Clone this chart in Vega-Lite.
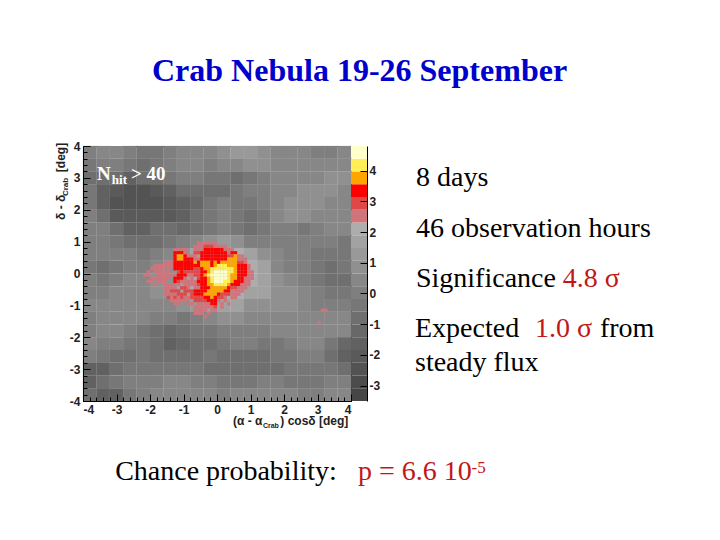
{"$schema":"https://vega.github.io/schema/vega-lite/v6.json","width":268,"height":255,"autosize":{"type":"none"},"padding":{"left":83,"top":146,"right":369,"bottom":139},"background":"white",
"title":{"text":"Crab Nebula 19-26 September","anchor":"start","dx":69,"offset":52,"font":"Liberation Serif","fontSize":32,"fontWeight":"bold","color":"#0000cc","frame":"group"},
"config":{"view":{"stroke":"#000"},"axis":{"grid":false,"title":null,"domainColor":"#000","tickColor":"#000","labelColor":"#222","labelFont":"Liberation Sans","labelFontWeight":"bold","labelFontSize":12}},
"data":{"values":[{}]},
"datasets":{
"bg":[
{"x":-3.8,"y":3.8,"v":0},{"x":-3.4,"y":3.8,"v":0.5},{"x":-3,"y":3.8,"v":0.5},{"x":-2.6,"y":3.8,"v":0},{"x":-2.2,"y":3.8,"v":-0.5},{"x":-1.8,"y":3.8,"v":-0.5},{"x":-1.4,"y":3.8,"v":0},{"x":-1,"y":3.8,"v":0.5},{"x":-0.6,"y":3.8,"v":0.5},{"x":-0.2,"y":3.8,"v":0.5},{"x":0.2,"y":3.8,"v":1},{"x":0.6,"y":3.8,"v":1.2},{"x":1,"y":3.8,"v":1.2},{"x":1.4,"y":3.8,"v":1},{"x":1.8,"y":3.8,"v":0.5},{"x":2.2,"y":3.8,"v":0.5},{"x":2.6,"y":3.8,"v":0.5},{"x":3,"y":3.8,"v":0},{"x":3.4,"y":3.8,"v":0},{"x":3.8,"y":3.8,"v":0.5},
{"x":-3.8,"y":3.4,"v":-0.5},{"x":-3.4,"y":3.4,"v":0},{"x":-3,"y":3.4,"v":0},{"x":-2.6,"y":3.4,"v":-0.5},{"x":-2.2,"y":3.4,"v":-1},{"x":-1.8,"y":3.4,"v":-0.5},{"x":-1.4,"y":3.4,"v":0},{"x":-1,"y":3.4,"v":0.5},{"x":-0.6,"y":3.4,"v":0.5},{"x":-0.2,"y":3.4,"v":0},{"x":0.2,"y":3.4,"v":0.3},{"x":0.6,"y":3.4,"v":0.5},{"x":1,"y":3.4,"v":1},{"x":1.4,"y":3.4,"v":1},{"x":1.8,"y":3.4,"v":0.5},{"x":2.2,"y":3.4,"v":0.3},{"x":2.6,"y":3.4,"v":0.3},{"x":3,"y":3.4,"v":0.3},{"x":3.4,"y":3.4,"v":0.5},{"x":3.8,"y":3.4,"v":0.5},
{"x":-3.8,"y":3,"v":-1},{"x":-3.4,"y":3,"v":-1},{"x":-3,"y":3,"v":-1},{"x":-2.6,"y":3,"v":-1.5},{"x":-2.2,"y":3,"v":-1},{"x":-1.8,"y":3,"v":-1},{"x":-1.4,"y":3,"v":-0.5},{"x":-1,"y":3,"v":0},{"x":-0.6,"y":3,"v":0},{"x":-0.2,"y":3,"v":-0.5},{"x":0.2,"y":3,"v":-0.5},{"x":0.6,"y":3,"v":-1},{"x":1,"y":3,"v":-0.5},{"x":1.4,"y":3,"v":0},{"x":1.8,"y":3,"v":0.5},{"x":2.2,"y":3,"v":0.5},{"x":2.6,"y":3,"v":0.5},{"x":3,"y":3,"v":0.5},{"x":3.4,"y":3,"v":1},{"x":3.8,"y":3,"v":0.8},
{"x":-3.8,"y":2.6,"v":-0.5},{"x":-3.4,"y":2.6,"v":-1.5},{"x":-3,"y":2.6,"v":-2},{"x":-2.6,"y":2.6,"v":-2.5},{"x":-2.2,"y":2.6,"v":-2.5},{"x":-1.8,"y":2.6,"v":-2},{"x":-1.4,"y":2.6,"v":-1.5},{"x":-1,"y":2.6,"v":-1},{"x":-0.6,"y":2.6,"v":-1},{"x":-0.2,"y":2.6,"v":-1},{"x":0.2,"y":2.6,"v":-1},{"x":0.6,"y":2.6,"v":-0.5},{"x":1,"y":2.6,"v":0},{"x":1.4,"y":2.6,"v":0},{"x":1.8,"y":2.6,"v":0.5},{"x":2.2,"y":2.6,"v":0.5},{"x":2.6,"y":2.6,"v":0.8},{"x":3,"y":2.6,"v":1},{"x":3.4,"y":2.6,"v":0.8},{"x":3.8,"y":2.6,"v":0.5},
{"x":-3.8,"y":2.2,"v":-0.5},{"x":-3.4,"y":2.2,"v":-1.5},{"x":-3,"y":2.2,"v":-2.5},{"x":-2.6,"y":2.2,"v":-2.5},{"x":-2.2,"y":2.2,"v":-2.5},{"x":-1.8,"y":2.2,"v":-2.5},{"x":-1.4,"y":2.2,"v":-2},{"x":-1,"y":2.2,"v":-1.5},{"x":-0.6,"y":2.2,"v":-1.2},{"x":-0.2,"y":2.2,"v":-0.5},{"x":0.2,"y":2.2,"v":0},{"x":0.6,"y":2.2,"v":-0.3},{"x":1,"y":2.2,"v":-0.5},{"x":1.4,"y":2.2,"v":0},{"x":1.8,"y":2.2,"v":0.5},{"x":2.2,"y":2.2,"v":0.8},{"x":2.6,"y":2.2,"v":1},{"x":3,"y":2.2,"v":0.8},{"x":3.4,"y":2.2,"v":0.5},{"x":3.8,"y":2.2,"v":0.3},
{"x":-3.8,"y":1.8,"v":0},{"x":-3.4,"y":1.8,"v":-1},{"x":-3,"y":1.8,"v":-2},{"x":-2.6,"y":1.8,"v":-2},{"x":-2.2,"y":1.8,"v":-2},{"x":-1.8,"y":1.8,"v":-2},{"x":-1.4,"y":1.8,"v":-2},{"x":-1,"y":1.8,"v":-1.5},{"x":-0.6,"y":1.8,"v":-1},{"x":-0.2,"y":1.8,"v":-0.5},{"x":0.2,"y":1.8,"v":0},{"x":0.6,"y":1.8,"v":-0.5},{"x":1,"y":1.8,"v":-1},{"x":1.4,"y":1.8,"v":-0.5},{"x":1.8,"y":1.8,"v":0.5},{"x":2.2,"y":1.8,"v":0.8},{"x":2.6,"y":1.8,"v":1},{"x":3,"y":1.8,"v":0.5},{"x":3.4,"y":1.8,"v":0.5},{"x":3.8,"y":1.8,"v":0.5},
{"x":-3.8,"y":1.4,"v":0},{"x":-3.4,"y":1.4,"v":0},{"x":-3,"y":1.4,"v":-1},{"x":-2.6,"y":1.4,"v":-1.5},{"x":-2.2,"y":1.4,"v":-1.5},{"x":-1.8,"y":1.4,"v":-1},{"x":-1.4,"y":1.4,"v":-1},{"x":-1,"y":1.4,"v":-1.2},{"x":-0.6,"y":1.4,"v":-1},{"x":-0.2,"y":1.4,"v":-0.3},{"x":0.2,"y":1.4,"v":0},{"x":0.6,"y":1.4,"v":-0.3},{"x":1,"y":1.4,"v":-1},{"x":1.4,"y":1.4,"v":-0.5},{"x":1.8,"y":1.4,"v":0},{"x":2.2,"y":1.4,"v":0},{"x":2.6,"y":1.4,"v":-0.5},{"x":3,"y":1.4,"v":0},{"x":3.4,"y":1.4,"v":0.5},{"x":3.8,"y":1.4,"v":0.5},
{"x":-3.8,"y":1,"v":0},{"x":-3.4,"y":1,"v":0},{"x":-3,"y":1,"v":-0.5},{"x":-2.6,"y":1,"v":-1},{"x":-2.2,"y":1,"v":-1},{"x":-1.8,"y":1,"v":-1},{"x":-1.4,"y":1,"v":-0.3},{"x":-1,"y":1,"v":0},{"x":-0.6,"y":1,"v":0.5},{"x":-0.2,"y":1,"v":1},{"x":0.2,"y":1,"v":1.2},{"x":0.6,"y":1,"v":0.8},{"x":1,"y":1,"v":0},{"x":1.4,"y":1,"v":0},{"x":1.8,"y":1,"v":0},{"x":2.2,"y":1,"v":0},{"x":2.6,"y":1,"v":0},{"x":3,"y":1,"v":0},{"x":3.4,"y":1,"v":0},{"x":3.8,"y":1,"v":-0.2},
{"x":-3.8,"y":0.6,"v":0},{"x":-3.4,"y":0.6,"v":0},{"x":-3,"y":0.6,"v":0},{"x":-2.6,"y":0.6,"v":0},{"x":-2.2,"y":0.6,"v":-0.5},{"x":-1.8,"y":0.6,"v":0},{"x":-1.4,"y":0.6,"v":0.5},{"x":-1,"y":0.6,"v":1},{"x":-0.6,"y":0.6,"v":1.5},{"x":-0.2,"y":0.6,"v":2},{"x":0.2,"y":0.6,"v":2},{"x":0.6,"y":0.6,"v":2},{"x":1,"y":0.6,"v":1.5},{"x":1.4,"y":0.6,"v":1},{"x":1.8,"y":0.6,"v":0.5},{"x":2.2,"y":0.6,"v":0},{"x":2.6,"y":0.6,"v":0},{"x":3,"y":0.6,"v":-0.5},{"x":3.4,"y":0.6,"v":-0.5},{"x":3.8,"y":0.6,"v":-0.5},
{"x":-3.8,"y":0.2,"v":-0.5},{"x":-3.4,"y":0.2,"v":-1},{"x":-3,"y":0.2,"v":-0.5},{"x":-2.6,"y":0.2,"v":0},{"x":-2.2,"y":0.2,"v":0},{"x":-1.8,"y":0.2,"v":0.5},{"x":-1.4,"y":0.2,"v":1},{"x":-1,"y":0.2,"v":1.5},{"x":-0.6,"y":0.2,"v":2},{"x":-0.2,"y":0.2,"v":2.2},{"x":0.2,"y":0.2,"v":2.2},{"x":0.6,"y":0.2,"v":2},{"x":1,"y":0.2,"v":2},{"x":1.4,"y":0.2,"v":1.5},{"x":1.8,"y":0.2,"v":0.5},{"x":2.2,"y":0.2,"v":0},{"x":2.6,"y":0.2,"v":0},{"x":3,"y":0.2,"v":-0.5},{"x":3.4,"y":0.2,"v":-1},{"x":3.8,"y":0.2,"v":-0.5},
{"x":-3.8,"y":-0.2,"v":0},{"x":-3.4,"y":-0.2,"v":-0.5},{"x":-3,"y":-0.2,"v":0},{"x":-2.6,"y":-0.2,"v":0.5},{"x":-2.2,"y":-0.2,"v":0.5},{"x":-1.8,"y":-0.2,"v":1},{"x":-1.4,"y":-0.2,"v":1},{"x":-1,"y":-0.2,"v":1.5},{"x":-0.6,"y":-0.2,"v":2},{"x":-0.2,"y":-0.2,"v":2.2},{"x":0.2,"y":-0.2,"v":2.2},{"x":0.6,"y":-0.2,"v":2},{"x":1,"y":-0.2,"v":2},{"x":1.4,"y":-0.2,"v":1.5},{"x":1.8,"y":-0.2,"v":1},{"x":2.2,"y":-0.2,"v":0.5},{"x":2.6,"y":-0.2,"v":0},{"x":3,"y":-0.2,"v":-0.3},{"x":3.4,"y":-0.2,"v":-1},{"x":3.8,"y":-0.2,"v":-1},
{"x":-3.8,"y":-0.6,"v":0},{"x":-3.4,"y":-0.6,"v":0},{"x":-3,"y":-0.6,"v":0.3},{"x":-2.6,"y":-0.6,"v":0.3},{"x":-2.2,"y":-0.6,"v":0.5},{"x":-1.8,"y":-0.6,"v":0.8},{"x":-1.4,"y":-0.6,"v":1},{"x":-1,"y":-0.6,"v":1.5},{"x":-0.6,"y":-0.6,"v":2},{"x":-0.2,"y":-0.6,"v":2.2},{"x":0.2,"y":-0.6,"v":2.2},{"x":0.6,"y":-0.6,"v":2},{"x":1,"y":-0.6,"v":1.8},{"x":1.4,"y":-0.6,"v":1.5},{"x":1.8,"y":-0.6,"v":1},{"x":2.2,"y":-0.6,"v":1},{"x":2.6,"y":-0.6,"v":0.5},{"x":3,"y":-0.6,"v":0},{"x":3.4,"y":-0.6,"v":-0.5},{"x":3.8,"y":-0.6,"v":-0.3},
{"x":-3.8,"y":-1,"v":0.5},{"x":-3.4,"y":-1,"v":0.5},{"x":-3,"y":-1,"v":0.5},{"x":-2.6,"y":-1,"v":0.5},{"x":-2.2,"y":-1,"v":0.5},{"x":-1.8,"y":-1,"v":0.5},{"x":-1.4,"y":-1,"v":0.3},{"x":-1,"y":-1,"v":1},{"x":-0.6,"y":-1,"v":1.2},{"x":-0.2,"y":-1,"v":1.5},{"x":0.2,"y":-1,"v":1.5},{"x":0.6,"y":-1,"v":1.5},{"x":1,"y":-1,"v":1},{"x":1.4,"y":-1,"v":1},{"x":1.8,"y":-1,"v":0.8},{"x":2.2,"y":-1,"v":0.8},{"x":2.6,"y":-1,"v":0.5},{"x":3,"y":-1,"v":0},{"x":3.4,"y":-1,"v":0},{"x":3.8,"y":-1,"v":0},
{"x":-3.8,"y":-1.4,"v":0},{"x":-3.4,"y":-1.4,"v":0.5},{"x":-3,"y":-1.4,"v":0.5},{"x":-2.6,"y":-1.4,"v":0.5},{"x":-2.2,"y":-1.4,"v":0.3},{"x":-1.8,"y":-1.4,"v":0},{"x":-1.4,"y":-1.4,"v":0},{"x":-1,"y":-1.4,"v":-0.3},{"x":-0.6,"y":-1.4,"v":0},{"x":-0.2,"y":-1.4,"v":0.5},{"x":0.2,"y":-1.4,"v":1},{"x":0.6,"y":-1.4,"v":0.8},{"x":1,"y":-1.4,"v":0.5},{"x":1.4,"y":-1.4,"v":0.5},{"x":1.8,"y":-1.4,"v":0.5},{"x":2.2,"y":-1.4,"v":0.5},{"x":2.6,"y":-1.4,"v":0.3},{"x":3,"y":-1.4,"v":0.3},{"x":3.4,"y":-1.4,"v":0.5},{"x":3.8,"y":-1.4,"v":0.5},
{"x":-3.8,"y":-1.8,"v":0},{"x":-3.4,"y":-1.8,"v":0.3},{"x":-3,"y":-1.8,"v":0.3},{"x":-2.6,"y":-1.8,"v":0},{"x":-2.2,"y":-1.8,"v":-0.3},{"x":-1.8,"y":-1.8,"v":-0.8},{"x":-1.4,"y":-1.8,"v":-1.2},{"x":-1,"y":-1.8,"v":-1},{"x":-0.6,"y":-1.8,"v":-0.5},{"x":-0.2,"y":-1.8,"v":-0.2},{"x":0.2,"y":-1.8,"v":0},{"x":0.6,"y":-1.8,"v":0},{"x":1,"y":-1.8,"v":0},{"x":1.4,"y":-1.8,"v":0},{"x":1.8,"y":-1.8,"v":0.3},{"x":2.2,"y":-1.8,"v":0.5},{"x":2.6,"y":-1.8,"v":0.5},{"x":3,"y":-1.8,"v":0.3},{"x":3.4,"y":-1.8,"v":0.5},{"x":3.8,"y":-1.8,"v":0.5},
{"x":-3.8,"y":-2.2,"v":0.3},{"x":-3.4,"y":-2.2,"v":0},{"x":-3,"y":-2.2,"v":0},{"x":-2.6,"y":-2.2,"v":-0.3},{"x":-2.2,"y":-2.2,"v":-0.5},{"x":-1.8,"y":-2.2,"v":-1},{"x":-1.4,"y":-2.2,"v":-1.5},{"x":-1,"y":-2.2,"v":-1.2},{"x":-0.6,"y":-2.2,"v":-1},{"x":-0.2,"y":-2.2,"v":-1},{"x":0.2,"y":-2.2,"v":-0.5},{"x":0.6,"y":-2.2,"v":0},{"x":1,"y":-2.2,"v":0},{"x":1.4,"y":-2.2,"v":-0.3},{"x":1.8,"y":-2.2,"v":-0.3},{"x":2.2,"y":-2.2,"v":0},{"x":2.6,"y":-2.2,"v":0.3},{"x":3,"y":-2.2,"v":0.3},{"x":3.4,"y":-2.2,"v":-0.5},{"x":3.8,"y":-2.2,"v":-1.2},
{"x":-3.8,"y":-2.6,"v":0},{"x":-3.4,"y":-2.6,"v":-0.5},{"x":-3,"y":-2.6,"v":-0.8},{"x":-2.6,"y":-2.6,"v":-0.8},{"x":-2.2,"y":-2.6,"v":-0.5},{"x":-1.8,"y":-2.6,"v":-0.8},{"x":-1.4,"y":-2.6,"v":-0.8},{"x":-1,"y":-2.6,"v":-0.8},{"x":-0.6,"y":-2.6,"v":-0.8},{"x":-0.2,"y":-2.6,"v":-0.5},{"x":0.2,"y":-2.6,"v":-0.8},{"x":0.6,"y":-2.6,"v":-1},{"x":1,"y":-2.6,"v":-0.8},{"x":1.4,"y":-2.6,"v":-0.8},{"x":1.8,"y":-2.6,"v":-0.5},{"x":2.2,"y":-2.6,"v":-0.5},{"x":2.6,"y":-2.6,"v":0},{"x":3,"y":-2.6,"v":0},{"x":3.4,"y":-2.6,"v":-1},{"x":3.8,"y":-2.6,"v":-1.5},
{"x":-3.8,"y":-3,"v":-1.5},{"x":-3.4,"y":-3,"v":-1.5},{"x":-3,"y":-3,"v":-0.8},{"x":-2.6,"y":-3,"v":-0.5},{"x":-2.2,"y":-3,"v":-0.5},{"x":-1.8,"y":-3,"v":-0.5},{"x":-1.4,"y":-3,"v":-0.5},{"x":-1,"y":-3,"v":-0.2},{"x":-0.6,"y":-3,"v":-0.5},{"x":-0.2,"y":-3,"v":-1},{"x":0.2,"y":-3,"v":-1},{"x":0.6,"y":-3,"v":-1},{"x":1,"y":-3,"v":-1},{"x":1.4,"y":-3,"v":-0.8},{"x":1.8,"y":-3,"v":-0.8},{"x":2.2,"y":-3,"v":-0.5},{"x":2.6,"y":-3,"v":-0.5},{"x":3,"y":-3,"v":-0.5},{"x":3.4,"y":-3,"v":-0.5},{"x":3.8,"y":-3,"v":-0.8},
{"x":-3.8,"y":-3.4,"v":-1.5},{"x":-3.4,"y":-3.4,"v":-1},{"x":-3,"y":-3.4,"v":-0.5},{"x":-2.6,"y":-3.4,"v":0},{"x":-2.2,"y":-3.4,"v":0},{"x":-1.8,"y":-3.4,"v":0},{"x":-1.4,"y":-3.4,"v":0.3},{"x":-1,"y":-3.4,"v":0.3},{"x":-0.6,"y":-3.4,"v":0},{"x":-0.2,"y":-3.4,"v":0},{"x":0.2,"y":-3.4,"v":-0.5},{"x":0.6,"y":-3.4,"v":-0.5},{"x":1,"y":-3.4,"v":-0.3},{"x":1.4,"y":-3.4,"v":0},{"x":1.8,"y":-3.4,"v":0},{"x":2.2,"y":-3.4,"v":-0.3},{"x":2.6,"y":-3.4,"v":-0.5},{"x":3,"y":-3.4,"v":-0.5},{"x":3.4,"y":-3.4,"v":0},{"x":3.8,"y":-3.4,"v":0},
{"x":-3.8,"y":-3.8,"v":-1},{"x":-3.4,"y":-3.8,"v":-1.5},{"x":-3,"y":-3.8,"v":-1.5},{"x":-2.6,"y":-3.8,"v":-0.5},{"x":-2.2,"y":-3.8,"v":0},{"x":-1.8,"y":-3.8,"v":0.3},{"x":-1.4,"y":-3.8,"v":0.3},{"x":-1,"y":-3.8,"v":0.3},{"x":-0.6,"y":-3.8,"v":0.3},{"x":-0.2,"y":-3.8,"v":0.3},{"x":0.2,"y":-3.8,"v":0},{"x":0.6,"y":-3.8,"v":0.3},{"x":1,"y":-3.8,"v":0.3},{"x":1.4,"y":-3.8,"v":0.3},{"x":1.8,"y":-3.8,"v":0.3},{"x":2.2,"y":-3.8,"v":0.3},{"x":2.6,"y":-3.8,"v":0},{"x":3,"y":-3.8,"v":0},{"x":3.4,"y":-3.8,"v":0.3},{"x":3.8,"y":-3.8,"v":0.3}
],
"hot":[
{"x":-0.55,"y":0.95,"v":2.5},{"x":-0.45,"y":0.95,"v":2.5},{"x":-0.35,"y":0.95,"v":2.5},{"x":-0.25,"y":0.95,"v":2.5},{"x":-0.15,"y":0.95,"v":2.5},{"x":-0.05,"y":0.95,"v":2.5},
{"x":-0.65,"y":0.85,"v":2.5},{"x":-0.55,"y":0.85,"v":2.5},{"x":-0.45,"y":0.85,"v":2.5},{"x":-0.35,"y":0.85,"v":2.9},{"x":-0.25,"y":0.85,"v":2.9},{"x":-0.15,"y":0.85,"v":2.9},{"x":-0.05,"y":0.85,"v":2.5},{"x":0.05,"y":0.85,"v":2.5},{"x":0.15,"y":0.85,"v":2.5},{"x":0.25,"y":0.85,"v":2.5},
{"x":-1.25,"y":0.75,"v":2.5},{"x":-1.15,"y":0.75,"v":2.5},{"x":-1.05,"y":0.75,"v":2.5},{"x":-0.95,"y":0.75,"v":2.5},{"x":-0.65,"y":0.75,"v":2.5},{"x":-0.55,"y":0.75,"v":2.5},{"x":-0.45,"y":0.75,"v":2.5},{"x":-0.35,"y":0.75,"v":3.35},{"x":-0.25,"y":0.75,"v":3.35},{"x":-0.15,"y":0.75,"v":3.35},{"x":-0.05,"y":0.75,"v":3.35},{"x":0.05,"y":0.75,"v":3.35},{"x":0.15,"y":0.75,"v":3.35},{"x":0.25,"y":0.75,"v":2.5},{"x":0.35,"y":0.75,"v":2.5},{"x":0.45,"y":0.75,"v":2.5},
{"x":-1.25,"y":0.65,"v":3.35},{"x":-1.15,"y":0.65,"v":3.35},{"x":-1.05,"y":0.65,"v":3.35},{"x":-0.95,"y":0.65,"v":2.5},{"x":-0.65,"y":0.65,"v":2.9},{"x":-0.55,"y":0.65,"v":2.9},{"x":-0.45,"y":0.65,"v":3.35},{"x":-0.35,"y":0.65,"v":3.35},{"x":-0.25,"y":0.65,"v":3.35},{"x":-0.15,"y":0.65,"v":3.35},{"x":-0.05,"y":0.65,"v":3.35},{"x":0.05,"y":0.65,"v":3.35},{"x":0.15,"y":0.65,"v":3.35},{"x":0.25,"y":0.65,"v":3.35},{"x":0.35,"y":0.65,"v":2.5},{"x":0.45,"y":0.65,"v":3.35},{"x":0.55,"y":0.65,"v":3.35},
{"x":-1.25,"y":0.55,"v":3.35},{"x":-1.15,"y":0.55,"v":3.75},{"x":-1.05,"y":0.55,"v":3.75},{"x":-0.95,"y":0.55,"v":3.35},{"x":-0.85,"y":0.55,"v":2.5},{"x":-0.75,"y":0.55,"v":2.5},{"x":-0.65,"y":0.55,"v":2.5},{"x":-0.45,"y":0.55,"v":3.35},{"x":-0.35,"y":0.55,"v":3.35},{"x":-0.25,"y":0.55,"v":3.35},{"x":-0.15,"y":0.55,"v":3.35},{"x":-0.05,"y":0.55,"v":3.35},{"x":0.05,"y":0.55,"v":3.35},{"x":0.15,"y":0.55,"v":3.35},{"x":0.25,"y":0.55,"v":3.35},{"x":0.35,"y":0.55,"v":2.9},{"x":0.45,"y":0.55,"v":2.9},{"x":0.55,"y":0.55,"v":3.75},{"x":0.65,"y":0.55,"v":2.5},{"x":0.75,"y":0.55,"v":2.5},
{"x":-1.25,"y":0.45,"v":3.35},{"x":-1.15,"y":0.45,"v":3.75},{"x":-1.05,"y":0.45,"v":3.75},{"x":-0.95,"y":0.45,"v":3.35},{"x":-0.85,"y":0.45,"v":3.35},{"x":-0.75,"y":0.45,"v":3.35},{"x":-0.65,"y":0.45,"v":2.5},{"x":-0.55,"y":0.45,"v":2.5},{"x":-0.45,"y":0.45,"v":3.35},{"x":-0.35,"y":0.45,"v":3.35},{"x":-0.25,"y":0.45,"v":3.35},{"x":-0.15,"y":0.45,"v":3.35},{"x":-0.05,"y":0.45,"v":3.35},{"x":0.05,"y":0.45,"v":3.35},{"x":0.15,"y":0.45,"v":3.35},{"x":0.25,"y":0.45,"v":3.35},{"x":0.35,"y":0.45,"v":3.75},{"x":0.45,"y":0.45,"v":3.75},{"x":0.55,"y":0.45,"v":3.75},{"x":0.65,"y":0.45,"v":2.5},{"x":0.75,"y":0.45,"v":2.5},{"x":0.85,"y":0.45,"v":2.5},
{"x":-1.55,"y":0.35,"v":2.5},{"x":-1.45,"y":0.35,"v":2.5},{"x":-1.35,"y":0.35,"v":2.5},{"x":-1.25,"y":0.35,"v":3.35},{"x":-1.15,"y":0.35,"v":3.35},{"x":-1.05,"y":0.35,"v":3.35},{"x":-0.95,"y":0.35,"v":3.35},{"x":-0.85,"y":0.35,"v":3.35},{"x":-0.75,"y":0.35,"v":3.35},{"x":-0.65,"y":0.35,"v":3.75},{"x":-0.55,"y":0.35,"v":3.35},{"x":-0.45,"y":0.35,"v":3.75},{"x":-0.35,"y":0.35,"v":3.75},{"x":-0.25,"y":0.35,"v":3.75},{"x":-0.15,"y":0.35,"v":3.35},{"x":-0.05,"y":0.35,"v":3.75},{"x":0.05,"y":0.35,"v":3.35},{"x":0.15,"y":0.35,"v":3.75},{"x":0.25,"y":0.35,"v":3.75},{"x":0.35,"y":0.35,"v":3.75},{"x":0.45,"y":0.35,"v":3.75},{"x":0.55,"y":0.35,"v":3.75},{"x":0.65,"y":0.35,"v":2.9},{"x":0.75,"y":0.35,"v":2.9},{"x":0.85,"y":0.35,"v":2.5},
{"x":-1.85,"y":0.25,"v":2.5},{"x":-1.75,"y":0.25,"v":2.5},{"x":-1.65,"y":0.25,"v":2.5},{"x":-1.55,"y":0.25,"v":2.5},{"x":-1.45,"y":0.25,"v":2.5},{"x":-1.35,"y":0.25,"v":2.5},{"x":-1.25,"y":0.25,"v":3.35},{"x":-1.15,"y":0.25,"v":3.35},{"x":-1.05,"y":0.25,"v":3.35},{"x":-0.95,"y":0.25,"v":3.35},{"x":-0.85,"y":0.25,"v":3.35},{"x":-0.75,"y":0.25,"v":3.35},{"x":-0.65,"y":0.25,"v":3.35},{"x":-0.55,"y":0.25,"v":3.35},{"x":-0.45,"y":0.25,"v":3.75},{"x":-0.35,"y":0.25,"v":3.75},{"x":-0.25,"y":0.25,"v":3.75},{"x":-0.15,"y":0.25,"v":3.35},{"x":-0.05,"y":0.25,"v":3.75},{"x":0.05,"y":0.25,"v":4.15},{"x":0.15,"y":0.25,"v":4.15},{"x":0.25,"y":0.25,"v":4.15},{"x":0.35,"y":0.25,"v":3.75},{"x":0.45,"y":0.25,"v":3.75},{"x":0.55,"y":0.25,"v":3.75},{"x":0.65,"y":0.25,"v":3.35},{"x":0.75,"y":0.25,"v":3.35},{"x":0.85,"y":0.25,"v":3.35},{"x":0.95,"y":0.25,"v":2.5},
{"x":-1.95,"y":0.15,"v":2.5},{"x":-1.85,"y":0.15,"v":2.5},{"x":-1.75,"y":0.15,"v":2.5},{"x":-1.65,"y":0.15,"v":2.5},{"x":-1.45,"y":0.15,"v":2.5},{"x":-1.25,"y":0.15,"v":3.35},{"x":-1.15,"y":0.15,"v":3.35},{"x":-1.05,"y":0.15,"v":3.35},{"x":-0.95,"y":0.15,"v":3.35},{"x":-0.85,"y":0.15,"v":3.35},{"x":-0.75,"y":0.15,"v":3.35},{"x":-0.65,"y":0.15,"v":2.9},{"x":-0.55,"y":0.15,"v":2.9},{"x":-0.45,"y":0.15,"v":3.35},{"x":-0.35,"y":0.15,"v":3.75},{"x":-0.25,"y":0.15,"v":3.75},{"x":-0.15,"y":0.15,"v":4.15},{"x":-0.05,"y":0.15,"v":4.15},{"x":0.05,"y":0.15,"v":4.15},{"x":0.15,"y":0.15,"v":4.15},{"x":0.25,"y":0.15,"v":4.15},{"x":0.35,"y":0.15,"v":4.15},{"x":0.45,"y":0.15,"v":4.15},{"x":0.55,"y":0.15,"v":3.75},{"x":0.65,"y":0.15,"v":3.35},{"x":0.75,"y":0.15,"v":3.35},{"x":0.85,"y":0.15,"v":3.35},{"x":0.95,"y":0.15,"v":2.5},
{"x":-2.05,"y":0.05,"v":2.5},{"x":-1.85,"y":0.05,"v":2.5},{"x":-1.75,"y":0.05,"v":2.5},{"x":-1.65,"y":0.05,"v":2.5},{"x":-1.55,"y":0.05,"v":2.5},{"x":-1.45,"y":0.05,"v":2.5},{"x":-1.15,"y":0.05,"v":2.9},{"x":-1.05,"y":0.05,"v":3.35},{"x":-0.95,"y":0.05,"v":2.9},{"x":-0.85,"y":0.05,"v":2.9},{"x":-0.75,"y":0.05,"v":2.9},{"x":-0.65,"y":0.05,"v":2.9},{"x":-0.55,"y":0.05,"v":2.9},{"x":-0.45,"y":0.05,"v":3.35},{"x":-0.35,"y":0.05,"v":3.35},{"x":-0.25,"y":0.05,"v":3.75},{"x":-0.15,"y":0.05,"v":4.15},{"x":-0.05,"y":0.05,"v":4.6},{"x":0.05,"y":0.05,"v":4.6},{"x":0.15,"y":0.05,"v":4.6},{"x":0.25,"y":0.05,"v":4.6},{"x":0.35,"y":0.05,"v":4.15},{"x":0.45,"y":0.05,"v":4.15},{"x":0.55,"y":0.05,"v":3.75},{"x":0.65,"y":0.05,"v":3.35},{"x":0.75,"y":0.05,"v":3.35},{"x":0.85,"y":0.05,"v":3.35},{"x":0.95,"y":0.05,"v":2.5},{"x":1.05,"y":0.05,"v":2.5},
{"x":-2.15,"y":-0.05,"v":2.5},{"x":-2.05,"y":-0.05,"v":2.5},{"x":-1.75,"y":-0.05,"v":2.5},{"x":-1.65,"y":-0.05,"v":2.5},{"x":-1.55,"y":-0.05,"v":2.5},{"x":-1.45,"y":-0.05,"v":2.5},{"x":-1.35,"y":-0.05,"v":2.5},{"x":-1.25,"y":-0.05,"v":2.5},{"x":-1.15,"y":-0.05,"v":3.35},{"x":-1.05,"y":-0.05,"v":3.35},{"x":-0.95,"y":-0.05,"v":3.35},{"x":-0.85,"y":-0.05,"v":2.5},{"x":-0.75,"y":-0.05,"v":2.5},{"x":-0.65,"y":-0.05,"v":2.9},{"x":-0.55,"y":-0.05,"v":2.9},{"x":-0.45,"y":-0.05,"v":3.35},{"x":-0.35,"y":-0.05,"v":3.75},{"x":-0.25,"y":-0.05,"v":4.15},{"x":-0.15,"y":-0.05,"v":4.6},{"x":-0.05,"y":-0.05,"v":4.6},{"x":0.05,"y":-0.05,"v":4.6},{"x":0.15,"y":-0.05,"v":4.6},{"x":0.25,"y":-0.05,"v":4.6},{"x":0.35,"y":-0.05,"v":4.15},{"x":0.45,"y":-0.05,"v":3.75},{"x":0.55,"y":-0.05,"v":3.75},{"x":0.65,"y":-0.05,"v":3.35},{"x":0.75,"y":-0.05,"v":3.35},{"x":0.85,"y":-0.05,"v":3.35},{"x":0.95,"y":-0.05,"v":2.5},{"x":1.05,"y":-0.05,"v":2.5},
{"x":-1.95,"y":-0.15,"v":2.5},{"x":-1.85,"y":-0.15,"v":2.5},{"x":-1.75,"y":-0.15,"v":2.5},{"x":-1.65,"y":-0.15,"v":2.5},{"x":-1.55,"y":-0.15,"v":2.5},{"x":-1.45,"y":-0.15,"v":2.5},{"x":-1.25,"y":-0.15,"v":3.35},{"x":-1.15,"y":-0.15,"v":3.35},{"x":-1.05,"y":-0.15,"v":3.35},{"x":-0.95,"y":-0.15,"v":2.5},{"x":-0.75,"y":-0.15,"v":2.5},{"x":-0.55,"y":-0.15,"v":2.9},{"x":-0.45,"y":-0.15,"v":3.35},{"x":-0.35,"y":-0.15,"v":3.35},{"x":-0.25,"y":-0.15,"v":3.75},{"x":-0.15,"y":-0.15,"v":4.15},{"x":-0.05,"y":-0.15,"v":4.6},{"x":0.05,"y":-0.15,"v":4.6},{"x":0.15,"y":-0.15,"v":4.6},{"x":0.25,"y":-0.15,"v":4.6},{"x":0.35,"y":-0.15,"v":4.15},{"x":0.45,"y":-0.15,"v":3.75},{"x":0.55,"y":-0.15,"v":3.75},{"x":0.65,"y":-0.15,"v":3.35},{"x":0.75,"y":-0.15,"v":3.35},{"x":0.85,"y":-0.15,"v":2.5},{"x":0.95,"y":-0.15,"v":2.5},{"x":1.05,"y":-0.15,"v":2.5},
{"x":-2.05,"y":-0.25,"v":2.5},{"x":-1.95,"y":-0.25,"v":2.5},{"x":-1.75,"y":-0.25,"v":2.5},{"x":-1.65,"y":-0.25,"v":2.5},{"x":-1.55,"y":-0.25,"v":2.5},{"x":-1.25,"y":-0.25,"v":3.35},{"x":-1.15,"y":-0.25,"v":2.9},{"x":-1.05,"y":-0.25,"v":2.5},{"x":-0.95,"y":-0.25,"v":2.5},{"x":-0.85,"y":-0.25,"v":2.5},{"x":-0.75,"y":-0.25,"v":2.5},{"x":-0.65,"y":-0.25,"v":2.5},{"x":-0.55,"y":-0.25,"v":3.35},{"x":-0.45,"y":-0.25,"v":3.35},{"x":-0.35,"y":-0.25,"v":3.35},{"x":-0.25,"y":-0.25,"v":3.75},{"x":-0.15,"y":-0.25,"v":4.15},{"x":-0.05,"y":-0.25,"v":4.6},{"x":0.05,"y":-0.25,"v":4.6},{"x":0.15,"y":-0.25,"v":4.6},{"x":0.25,"y":-0.25,"v":4.15},{"x":0.35,"y":-0.25,"v":4.15},{"x":0.45,"y":-0.25,"v":3.75},{"x":0.55,"y":-0.25,"v":3.35},{"x":0.65,"y":-0.25,"v":3.35},{"x":0.75,"y":-0.25,"v":3.35},{"x":0.85,"y":-0.25,"v":2.5},{"x":0.95,"y":-0.25,"v":2.5},
{"x":-1.85,"y":-0.35,"v":2.5},{"x":-1.55,"y":-0.35,"v":2.5},{"x":-1.45,"y":-0.35,"v":2.5},{"x":-1.35,"y":-0.35,"v":2.5},{"x":-1.15,"y":-0.35,"v":2.5},{"x":-0.95,"y":-0.35,"v":2.5},{"x":-0.85,"y":-0.35,"v":2.5},{"x":-0.75,"y":-0.35,"v":2.5},{"x":-0.65,"y":-0.35,"v":2.5},{"x":-0.55,"y":-0.35,"v":2.9},{"x":-0.45,"y":-0.35,"v":3.35},{"x":-0.35,"y":-0.35,"v":3.35},{"x":-0.25,"y":-0.35,"v":3.75},{"x":-0.15,"y":-0.35,"v":3.75},{"x":-0.05,"y":-0.35,"v":4.15},{"x":0.05,"y":-0.35,"v":4.15},{"x":0.15,"y":-0.35,"v":4.15},{"x":0.25,"y":-0.35,"v":4.15},{"x":0.35,"y":-0.35,"v":3.75},{"x":0.45,"y":-0.35,"v":3.35},{"x":0.55,"y":-0.35,"v":3.35},{"x":0.65,"y":-0.35,"v":3.35},{"x":0.75,"y":-0.35,"v":2.5},{"x":0.85,"y":-0.35,"v":2.5},{"x":0.95,"y":-0.35,"v":2.5},
{"x":-1.55,"y":-0.45,"v":2.5},{"x":-1.45,"y":-0.45,"v":2.5},{"x":-1.35,"y":-0.45,"v":2.5},{"x":-1.25,"y":-0.45,"v":2.5},{"x":-1.05,"y":-0.45,"v":2.9},{"x":-0.95,"y":-0.45,"v":2.9},{"x":-0.85,"y":-0.45,"v":2.5},{"x":-0.65,"y":-0.45,"v":2.5},{"x":-0.55,"y":-0.45,"v":2.5},{"x":-0.45,"y":-0.45,"v":3.35},{"x":-0.35,"y":-0.45,"v":3.35},{"x":-0.25,"y":-0.45,"v":3.35},{"x":-0.15,"y":-0.45,"v":3.75},{"x":-0.05,"y":-0.45,"v":3.75},{"x":0.05,"y":-0.45,"v":3.75},{"x":0.15,"y":-0.45,"v":3.75},{"x":0.25,"y":-0.45,"v":3.75},{"x":0.35,"y":-0.45,"v":3.35},{"x":0.45,"y":-0.45,"v":2.9},{"x":0.55,"y":-0.45,"v":2.9},{"x":0.65,"y":-0.45,"v":2.5},{"x":0.75,"y":-0.45,"v":2.5},{"x":0.85,"y":-0.45,"v":2.5},
{"x":-1.55,"y":-0.55,"v":2.5},{"x":-1.45,"y":-0.55,"v":2.5},{"x":-1.35,"y":-0.55,"v":2.9},{"x":-1.25,"y":-0.55,"v":2.9},{"x":-1.15,"y":-0.55,"v":2.9},{"x":-0.95,"y":-0.55,"v":2.9},{"x":-0.85,"y":-0.55,"v":2.9},{"x":-0.75,"y":-0.55,"v":2.9},{"x":-0.65,"y":-0.55,"v":3.35},{"x":-0.55,"y":-0.55,"v":3.35},{"x":-0.45,"y":-0.55,"v":3.35},{"x":-0.35,"y":-0.55,"v":3.35},{"x":-0.25,"y":-0.55,"v":3.75},{"x":-0.15,"y":-0.55,"v":3.75},{"x":-0.05,"y":-0.55,"v":3.75},{"x":0.05,"y":-0.55,"v":3.75},{"x":0.15,"y":-0.55,"v":3.75},{"x":0.25,"y":-0.55,"v":3.35},{"x":0.35,"y":-0.55,"v":3.35},{"x":0.45,"y":-0.55,"v":2.5},{"x":0.55,"y":-0.55,"v":2.5},{"x":0.65,"y":-0.55,"v":2.5},{"x":0.75,"y":-0.55,"v":2.5},
{"x":-1.55,"y":-0.65,"v":2.5},{"x":-1.45,"y":-0.65,"v":2.5},{"x":-1.35,"y":-0.65,"v":2.5},{"x":-1.25,"y":-0.65,"v":2.5},{"x":-1.15,"y":-0.65,"v":2.9},{"x":-1.05,"y":-0.65,"v":2.9},{"x":-0.95,"y":-0.65,"v":2.9},{"x":-0.75,"y":-0.65,"v":2.9},{"x":-0.65,"y":-0.65,"v":3.35},{"x":-0.55,"y":-0.65,"v":3.35},{"x":-0.45,"y":-0.65,"v":3.35},{"x":-0.35,"y":-0.65,"v":3.75},{"x":-0.25,"y":-0.65,"v":3.75},{"x":-0.15,"y":-0.65,"v":3.75},{"x":-0.05,"y":-0.65,"v":3.75},{"x":0.05,"y":-0.65,"v":3.35},{"x":0.15,"y":-0.65,"v":2.9},{"x":0.25,"y":-0.65,"v":2.9},{"x":0.35,"y":-0.65,"v":2.9},{"x":0.45,"y":-0.65,"v":2.5},{"x":0.55,"y":-0.65,"v":2.5},{"x":0.65,"y":-0.65,"v":2.5},
{"x":-1.45,"y":-0.75,"v":2.9},{"x":-1.35,"y":-0.75,"v":2.5},{"x":-1.25,"y":-0.75,"v":2.9},{"x":-1.15,"y":-0.75,"v":2.5},{"x":-1.05,"y":-0.75,"v":2.9},{"x":-0.95,"y":-0.75,"v":2.5},{"x":-0.85,"y":-0.75,"v":2.5},{"x":-0.75,"y":-0.75,"v":2.9},{"x":-0.65,"y":-0.75,"v":2.9},{"x":-0.55,"y":-0.75,"v":2.9},{"x":-0.45,"y":-0.75,"v":2.9},{"x":-0.35,"y":-0.75,"v":3.35},{"x":-0.25,"y":-0.75,"v":3.35},{"x":-0.15,"y":-0.75,"v":3.75},{"x":-0.05,"y":-0.75,"v":3.35},{"x":0.05,"y":-0.75,"v":2.9},{"x":0.15,"y":-0.75,"v":2.9},{"x":0.25,"y":-0.75,"v":2.5},{"x":0.45,"y":-0.75,"v":2.5},{"x":0.55,"y":-0.75,"v":2.5},
{"x":-1.35,"y":-0.85,"v":2.5},{"x":-1.25,"y":-0.85,"v":2.5},{"x":-1.15,"y":-0.85,"v":2.5},{"x":-1.05,"y":-0.85,"v":2.5},{"x":-0.95,"y":-0.85,"v":2.5},{"x":-0.65,"y":-0.85,"v":2.9},{"x":-0.55,"y":-0.85,"v":2.9},{"x":-0.45,"y":-0.85,"v":2.9},{"x":-0.35,"y":-0.85,"v":2.9},{"x":-0.25,"y":-0.85,"v":3.35},{"x":-0.15,"y":-0.85,"v":3.35},{"x":-0.05,"y":-0.85,"v":3.35},{"x":0.05,"y":-0.85,"v":2.5},{"x":0.25,"y":-0.85,"v":2.5},
{"x":-1.25,"y":-0.95,"v":2.5},{"x":-1.15,"y":-0.95,"v":2.5},{"x":-0.85,"y":-0.95,"v":2.5},{"x":-0.75,"y":-0.95,"v":2.5},{"x":-0.55,"y":-0.95,"v":2.5},{"x":-0.45,"y":-0.95,"v":2.5},{"x":-0.35,"y":-0.95,"v":2.5},{"x":-0.25,"y":-0.95,"v":2.5},{"x":-0.15,"y":-0.95,"v":3.35},{"x":-0.05,"y":-0.95,"v":3.35},{"x":0.15,"y":-0.95,"v":2.5},{"x":0.35,"y":-0.95,"v":2.5},
{"x":-0.65,"y":-1.05,"v":2.5},{"x":-0.55,"y":-1.05,"v":2.5},{"x":-0.45,"y":-1.05,"v":2.5},{"x":-0.35,"y":-1.05,"v":2.5},{"x":-0.25,"y":-1.05,"v":2.5},{"x":-0.15,"y":-1.05,"v":2.5},{"x":-0.05,"y":-1.05,"v":2.9},{"x":0.15,"y":-1.05,"v":2.5},
{"x":-0.65,"y":-1.15,"v":2.5},{"x":-0.55,"y":-1.15,"v":2.5},{"x":-0.45,"y":-1.15,"v":2.5},{"x":-0.35,"y":-1.15,"v":2.5},{"x":-0.15,"y":-1.15,"v":2.5},{"x":-0.05,"y":-1.15,"v":2.5},
{"x":-0.65,"y":-1.25,"v":2.5},{"x":-0.55,"y":-1.25,"v":2.5},{"x":-0.45,"y":-1.25,"v":2.5},{"x":-0.25,"y":-1.25,"v":2.5},
{"x":-0.35,"y":-1.35,"v":2.5},
{"x":3.15,"y":-1.15,"v":2.5},{"x":3.25,"y":-1.15,"v":2.5},{"x":3.05,"y":-1.55,"v":2.5}
],
"bar":[{"lo":-3.5,"hi":-3.085,"v":-3.3},{"lo":-3.085,"hi":-2.67,"v":-2.9},{"lo":-2.67,"hi":-2.255,"v":-2.45},{"lo":-2.255,"hi":-1.84,"v":-2.05},{"lo":-1.84,"hi":-1.425,"v":-1.6},{"lo":-1.425,"hi":-1.01,"v":-1.2},{"lo":-1.01,"hi":-0.595,"v":-0.8},{"lo":-0.595,"hi":-0.18,"v":-0.4},{"lo":-0.18,"hi":0.235,"v":0.05},{"lo":0.235,"hi":0.65,"v":0.45},{"lo":0.65,"hi":1.065,"v":0.85},{"lo":1.065,"hi":1.48,"v":1.3},{"lo":1.48,"hi":1.895,"v":1.7},{"lo":1.895,"hi":2.31,"v":2.1},{"lo":2.31,"hi":2.725,"v":2.5},{"lo":2.725,"hi":3.14,"v":2.9},{"lo":3.14,"hi":3.555,"v":3.35},{"lo":3.555,"hi":3.97,"v":3.75},{"lo":3.97,"hi":4.385,"v":4.15},{"lo":4.385,"hi":4.8,"v":4.6}]
},
"layer":[
{"layer":[
{"data":{"name":"bg"},"mark":{"type":"rect","width":13.6,"height":12.95},"encoding":{
"x":{"field":"x","type":"quantitative","scale":{"domain":[-4,4],"nice":false,"zero":false},"axis":{"orient":"bottom","zindex":1,"values":[-4,-3,-2,-1,0,1,2,3,4],"tickSize":-7,"labelPadding":10,"labelExpr":"''+datum.value"}},
"y":{"field":"y","type":"quantitative","scale":{"domain":[-4,4],"nice":false,"zero":false},"axis":{"orient":"left","zindex":1,"values":[-4,-3,-2,-1,0,1,2,3,4],"tickSize":-7,"labelPadding":10,"labelExpr":"''+datum.value"}},
"color":{"field":"v","type":"quantitative","legend":null,"scale":{"type":"threshold","domain":[-3.085,-2.67,-2.255,-1.84,-1.425,-1.01,-0.595,-0.18,0.235,0.65,1.065,1.48,1.895,2.31,2.725,3.14,3.555,3.97,4.385],"range":["#464646","#4c4c4c","#535353","#5a5a5a","#616161","#686868","#6f6f6f","#777777","#7f7f7f","#878787","#909090","#999999","#a2a2a2","#adadad","#d0747c","#e04848","#ff0000","#ffa500","#ffee55","#ffffcc"]}}}},
{"data":{"name":"hot"},"mark":{"type":"rect","width":3.45,"height":3.3},"encoding":{
"x":{"field":"x","type":"quantitative","axis":{"orient":"bottom","zindex":1,"values":[-3.8,-3.6,-3.4,-3.2,-2.8,-2.6,-2.4,-2.2,-1.8,-1.6,-1.4,-1.2,-0.8,-0.6,-0.4,-0.2,0.2,0.4,0.6,0.8,1.2,1.4,1.6,1.8,2.2,2.4,2.6,2.8,3.2,3.4,3.6,3.8],"tickSize":-4,"labels":false,"domain":false}},
"y":{"field":"y","type":"quantitative","axis":{"orient":"left","zindex":1,"values":[-3.8,-3.6,-3.4,-3.2,-2.8,-2.6,-2.4,-2.2,-1.8,-1.6,-1.4,-1.2,-0.8,-0.6,-0.4,-0.2,0.2,0.4,0.6,0.8,1.2,1.4,1.6,1.8,2.2,2.4,2.6,2.8,3.2,3.4,3.6,3.8],"tickSize":-4,"labels":false,"domain":false}},
"color":{"field":"v","type":"quantitative","legend":null,"scale":{"type":"threshold","domain":[-3.085,-2.67,-2.255,-1.84,-1.425,-1.01,-0.595,-0.18,0.235,0.65,1.065,1.48,1.895,2.31,2.725,3.14,3.555,3.97,4.385],"range":["#464646","#4c4c4c","#535353","#5a5a5a","#616161","#686868","#6f6f6f","#777777","#7f7f7f","#878787","#909090","#999999","#a2a2a2","#adadad","#d0747c","#e04848","#ff0000","#ffa500","#ffee55","#ffffcc"]}}}},
{"mark":{"type":"text","text":"8 days","align":"left","baseline":"alphabetic","font":"Liberation Serif","fontSize":28,"color":"#000"},"encoding":{"x":{"datum":5.94,"type":"quantitative","axis":null},"y":{"datum":2.745,"type":"quantitative","axis":null}}},
{"mark":{"type":"text","text":"46 observation hours","align":"left","baseline":"alphabetic","font":"Liberation Serif","fontSize":28,"color":"#000"},"encoding":{"x":{"datum":5.94,"type":"quantitative","axis":null},"y":{"datum":1.155,"type":"quantitative","axis":null}}},
{"mark":{"type":"text","text":"Significance","align":"left","baseline":"alphabetic","font":"Liberation Serif","fontSize":28,"color":"#000"},"encoding":{"x":{"datum":5.94,"type":"quantitative","axis":null},"y":{"datum":-0.414,"type":"quantitative","axis":null}}},
{"mark":{"type":"text","text":"4.8 σ","align":"left","baseline":"alphabetic","font":"Liberation Serif","fontSize":28,"color":"#c01818"},"encoding":{"x":{"datum":10.32,"type":"quantitative","axis":null},"y":{"datum":-0.414,"type":"quantitative","axis":null}}},
{"mark":{"type":"text","text":"Expected","align":"left","baseline":"alphabetic","font":"Liberation Serif","fontSize":28,"color":"#000"},"encoding":{"x":{"datum":5.91,"type":"quantitative","axis":null},"y":{"datum":-1.992,"type":"quantitative","axis":null}}},
{"mark":{"type":"text","text":"1.0 σ","align":"left","baseline":"alphabetic","font":"Liberation Serif","fontSize":28,"color":"#c01818"},"encoding":{"x":{"datum":9.49,"type":"quantitative","axis":null},"y":{"datum":-1.992,"type":"quantitative","axis":null}}},
{"mark":{"type":"text","text":"from","align":"left","baseline":"alphabetic","font":"Liberation Serif","fontSize":28,"color":"#000"},"encoding":{"x":{"datum":11.43,"type":"quantitative","axis":null},"y":{"datum":-1.992,"type":"quantitative","axis":null}}},
{"mark":{"type":"text","text":"steady flux","align":"left","baseline":"alphabetic","font":"Liberation Serif","fontSize":28,"color":"#000"},"encoding":{"x":{"datum":5.91,"type":"quantitative","axis":null},"y":{"datum":-3.05,"type":"quantitative","axis":null}}},
{"mark":{"type":"text","text":"Chance probability:","align":"left","baseline":"alphabetic","font":"Liberation Serif","fontSize":28,"color":"#000"},"encoding":{"x":{"datum":-3.04,"type":"quantitative","axis":null},"y":{"datum":-6.48,"type":"quantitative","axis":null}}},
{"mark":{"type":"text","text":"p = 6.6 10","align":"left","baseline":"alphabetic","font":"Liberation Serif","fontSize":28,"color":"#c01818"},"encoding":{"x":{"datum":4.21,"type":"quantitative","axis":null},"y":{"datum":-6.48,"type":"quantitative","axis":null}}},
{"mark":{"type":"text","text":"-5","align":"left","baseline":"alphabetic","font":"Liberation Serif","fontSize":17,"color":"#c01818"},"encoding":{"x":{"datum":7.6,"type":"quantitative","axis":null},"y":{"datum":-6.26,"type":"quantitative","axis":null}}},
{"mark":{"type":"text","text":"N","align":"left","baseline":"alphabetic","font":"Liberation Serif","fontWeight":"bold","fontSize":19,"color":"#fff"},"encoding":{"x":{"datum":-3.58,"type":"quantitative","axis":null},"y":{"datum":2.93,"type":"quantitative","axis":null}}},
{"mark":{"type":"text","text":"hit","align":"left","baseline":"alphabetic","font":"Liberation Serif","fontWeight":"bold","fontSize":13,"color":"#fff"},"encoding":{"x":{"datum":-3.14,"type":"quantitative","axis":null},"y":{"datum":2.82,"type":"quantitative","axis":null}}},
{"mark":{"type":"text","text":"> 40","align":"left","baseline":"alphabetic","font":"Liberation Serif","fontWeight":"bold","fontSize":19,"color":"#fff"},"encoding":{"x":{"datum":-2.57,"type":"quantitative","axis":null},"y":{"datum":2.93,"type":"quantitative","axis":null}}},
{"mark":{"type":"text","text":"(α - α","align":"left","baseline":"alphabetic","font":"Liberation Sans","fontWeight":"bold","fontSize":12,"color":"#222"},"encoding":{"x":{"datum":0.48,"type":"quantitative","axis":null},"y":{"datum":-4.75,"type":"quantitative","axis":null}}},
{"mark":{"type":"text","text":"Crab","align":"left","baseline":"alphabetic","font":"Liberation Sans","fontWeight":"bold","fontSize":7,"color":"#222"},"encoding":{"x":{"datum":1.37,"type":"quantitative","axis":null},"y":{"datum":-4.85,"type":"quantitative","axis":null}}},
{"mark":{"type":"text","text":") cosδ [deg]","align":"left","baseline":"alphabetic","font":"Liberation Sans","fontWeight":"bold","fontSize":12,"color":"#222"},"encoding":{"x":{"datum":1.89,"type":"quantitative","axis":null},"y":{"datum":-4.75,"type":"quantitative","axis":null}}},
{"mark":{"type":"text","text":"δ - δ","angle":270,"align":"left","baseline":"alphabetic","font":"Liberation Sans","fontWeight":"bold","fontSize":12,"color":"#222"},"encoding":{"x":{"datum":-4.54,"type":"quantitative","axis":null},"y":{"datum":1.68,"type":"quantitative","axis":null}}},
{"mark":{"type":"text","text":"Crab","angle":270,"align":"left","baseline":"alphabetic","font":"Liberation Sans","fontWeight":"bold","fontSize":8,"color":"#222"},"encoding":{"x":{"datum":-4.45,"type":"quantitative","axis":null},"y":{"datum":2.43,"type":"quantitative","axis":null}}},
{"mark":{"type":"text","text":"[deg]","angle":270,"align":"left","baseline":"alphabetic","font":"Liberation Sans","fontWeight":"bold","fontSize":12,"color":"#222"},"encoding":{"x":{"datum":-4.54,"type":"quantitative","axis":null},"y":{"datum":3.18,"type":"quantitative","axis":null}}}
],"resolve":{"axis":{"x":"independent","y":"independent"}}},
{"data":{"name":"bar"},"mark":{"type":"rect"},"encoding":{
"x":{"datum":4,"type":"quantitative","axis":null},"x2":{"datum":4.48},
"y":{"field":"lo","type":"quantitative","scale":{"domain":[-3.5,4.8],"nice":false,"zero":false},"axis":{"orient":"right","zindex":1,"offset":16,"values":[-3,-2,-1,0,1,2,3,4],"tickSize":-7,"labelPadding":9,"labelExpr":"''+datum.value"}},
"y2":{"field":"hi"},
"color":{"field":"v","type":"quantitative","legend":null,"scale":{"type":"threshold","domain":[-3.085,-2.67,-2.255,-1.84,-1.425,-1.01,-0.595,-0.18,0.235,0.65,1.065,1.48,1.895,2.31,2.725,3.14,3.555,3.97,4.385],"range":["#464646","#4c4c4c","#535353","#5a5a5a","#616161","#686868","#6f6f6f","#777777","#7f7f7f","#878787","#909090","#999999","#a2a2a2","#adadad","#d0747c","#e04848","#ff0000","#ffa500","#ffee55","#ffffcc"]}}}}
],
"resolve":{"scale":{"y":"independent"},"axis":{"x":"independent","y":"independent"}}
}
